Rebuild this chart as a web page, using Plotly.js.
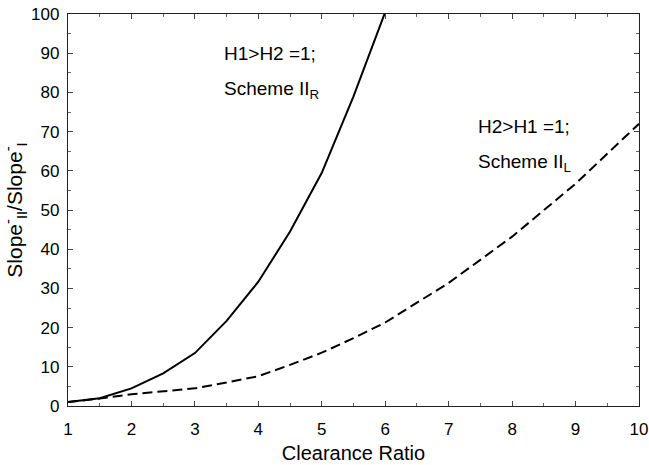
<!DOCTYPE html>
<html>
<head>
<meta charset="utf-8">
<script src="https://cdn.plot.ly/plotly-3.0.1.min.js"></script>
<style>html,body{margin:0;padding:0;background:#fff;}#chart{width:649px;height:465px;}</style>
</head>
<body>
<div id="chart"></div>
<script>
// Scheme II_R (H1>H2 = 1) - solid
const xR = [1, 1.5, 2, 2.5, 3, 3.5, 4, 4.5, 5, 5.5, 6];
const yR = [1, 2.0, 4.5, 8.3, 13.5, 21.7, 31.7, 44.5, 59.5, 79, 100.5];
// Scheme II_L (H2>H1 = 1) - dashed
const xL = [1, 1.5, 2, 2.5, 3, 3.5, 4, 4.5, 5, 5.5, 6, 7, 8, 9, 10];
const yL = [1, 1.9, 3.0, 3.8, 4.5, 6.0, 7.6, 10.5, 13.6, 17.3, 21.3, 31.4, 43.2, 56.7, 72];

const xTicks = [1, 2, 3, 4, 5, 6, 7, 8, 9, 10];
const yTicks = [0, 10, 20, 30, 40, 50, 60, 70, 80, 90, 100];

const FONT = "Liberation Sans, Arial, sans-serif";

const traces = [
  {x: xR, y: yR, mode: 'lines', line: {color: '#000', width: 2}, hoverinfo: 'skip'},
  {x: xL, y: yL, mode: 'lines', line: {color: '#000', width: 2, dash: '10px,5px'}, hoverinfo: 'skip'}
];

const axisCommon = {
  showline: true, linecolor: '#222', linewidth: 1.2, mirror: 'allticks',
  ticks: 'inside', ticklen: 5, tickcolor: '#444', tickwidth: 1,
  showgrid: false, zeroline: false,
  tickfont: {family: FONT, size: 17, color: '#000'}
};

const layout = {
  width: 649, height: 465,
  margin: {l: 68, r: 10, t: 14, b: 59},
  paper_bgcolor: '#fff', plot_bgcolor: '#fff',
  showlegend: false,
  font: {family: FONT, color: '#000'},
  xaxis: Object.assign({}, axisCommon, {
    range: [1, 10], tickvals: xTicks, ticktext: xTicks.map(String),
    ticklabelstandoff: 7,
    minor: {dtick: 0.5, tick0: 1, ticks: 'inside', ticklen: 3, tickcolor: '#666'},
    title: {text: 'Clearance Ratio', font: {family: FONT, size: 20, color: '#000'}, standoff: 8}
  }),
  yaxis: Object.assign({}, axisCommon, {
    range: [0, 100], tickvals: yTicks, ticktext: yTicks.map(String),
    ticklabelstandoff: 4,
    minor: {dtick: 5, tick0: 0, ticks: 'inside', ticklen: 3, tickcolor: '#666'},
    title: {text: 'Slope<sup>-</sup><sub>II</sub>/Slope<sup>-</sup><sub>I</sub>', font: {family: FONT, size: 21, color: '#000'}, standoff: 2}
  }),
  annotations: [
    {x: 3.43, y: 90, xref: 'x', yref: 'y', text: 'H1>H2 =1;', showarrow: false, xanchor: 'left', yanchor: 'middle', font: {family: FONT, size: 19, color: '#000'}},
    {x: 3.43, y: 80.5, xref: 'x', yref: 'y', text: 'Scheme II<sub>R</sub>', showarrow: false, xanchor: 'left', yanchor: 'middle', font: {family: FONT, size: 19, color: '#000'}},
    {x: 7.43, y: 71.2, xref: 'x', yref: 'y', text: 'H2>H1 =1;', showarrow: false, xanchor: 'left', yanchor: 'middle', font: {family: FONT, size: 19, color: '#000'}},
    {x: 7.43, y: 62, xref: 'x', yref: 'y', text: 'Scheme II<sub>L</sub>', showarrow: false, xanchor: 'left', yanchor: 'middle', font: {family: FONT, size: 19, color: '#000'}}
  ]
};

Plotly.newPlot('chart', traces, layout, {staticPlot: true, displayModeBar: false});
</script>
</body>
</html>
